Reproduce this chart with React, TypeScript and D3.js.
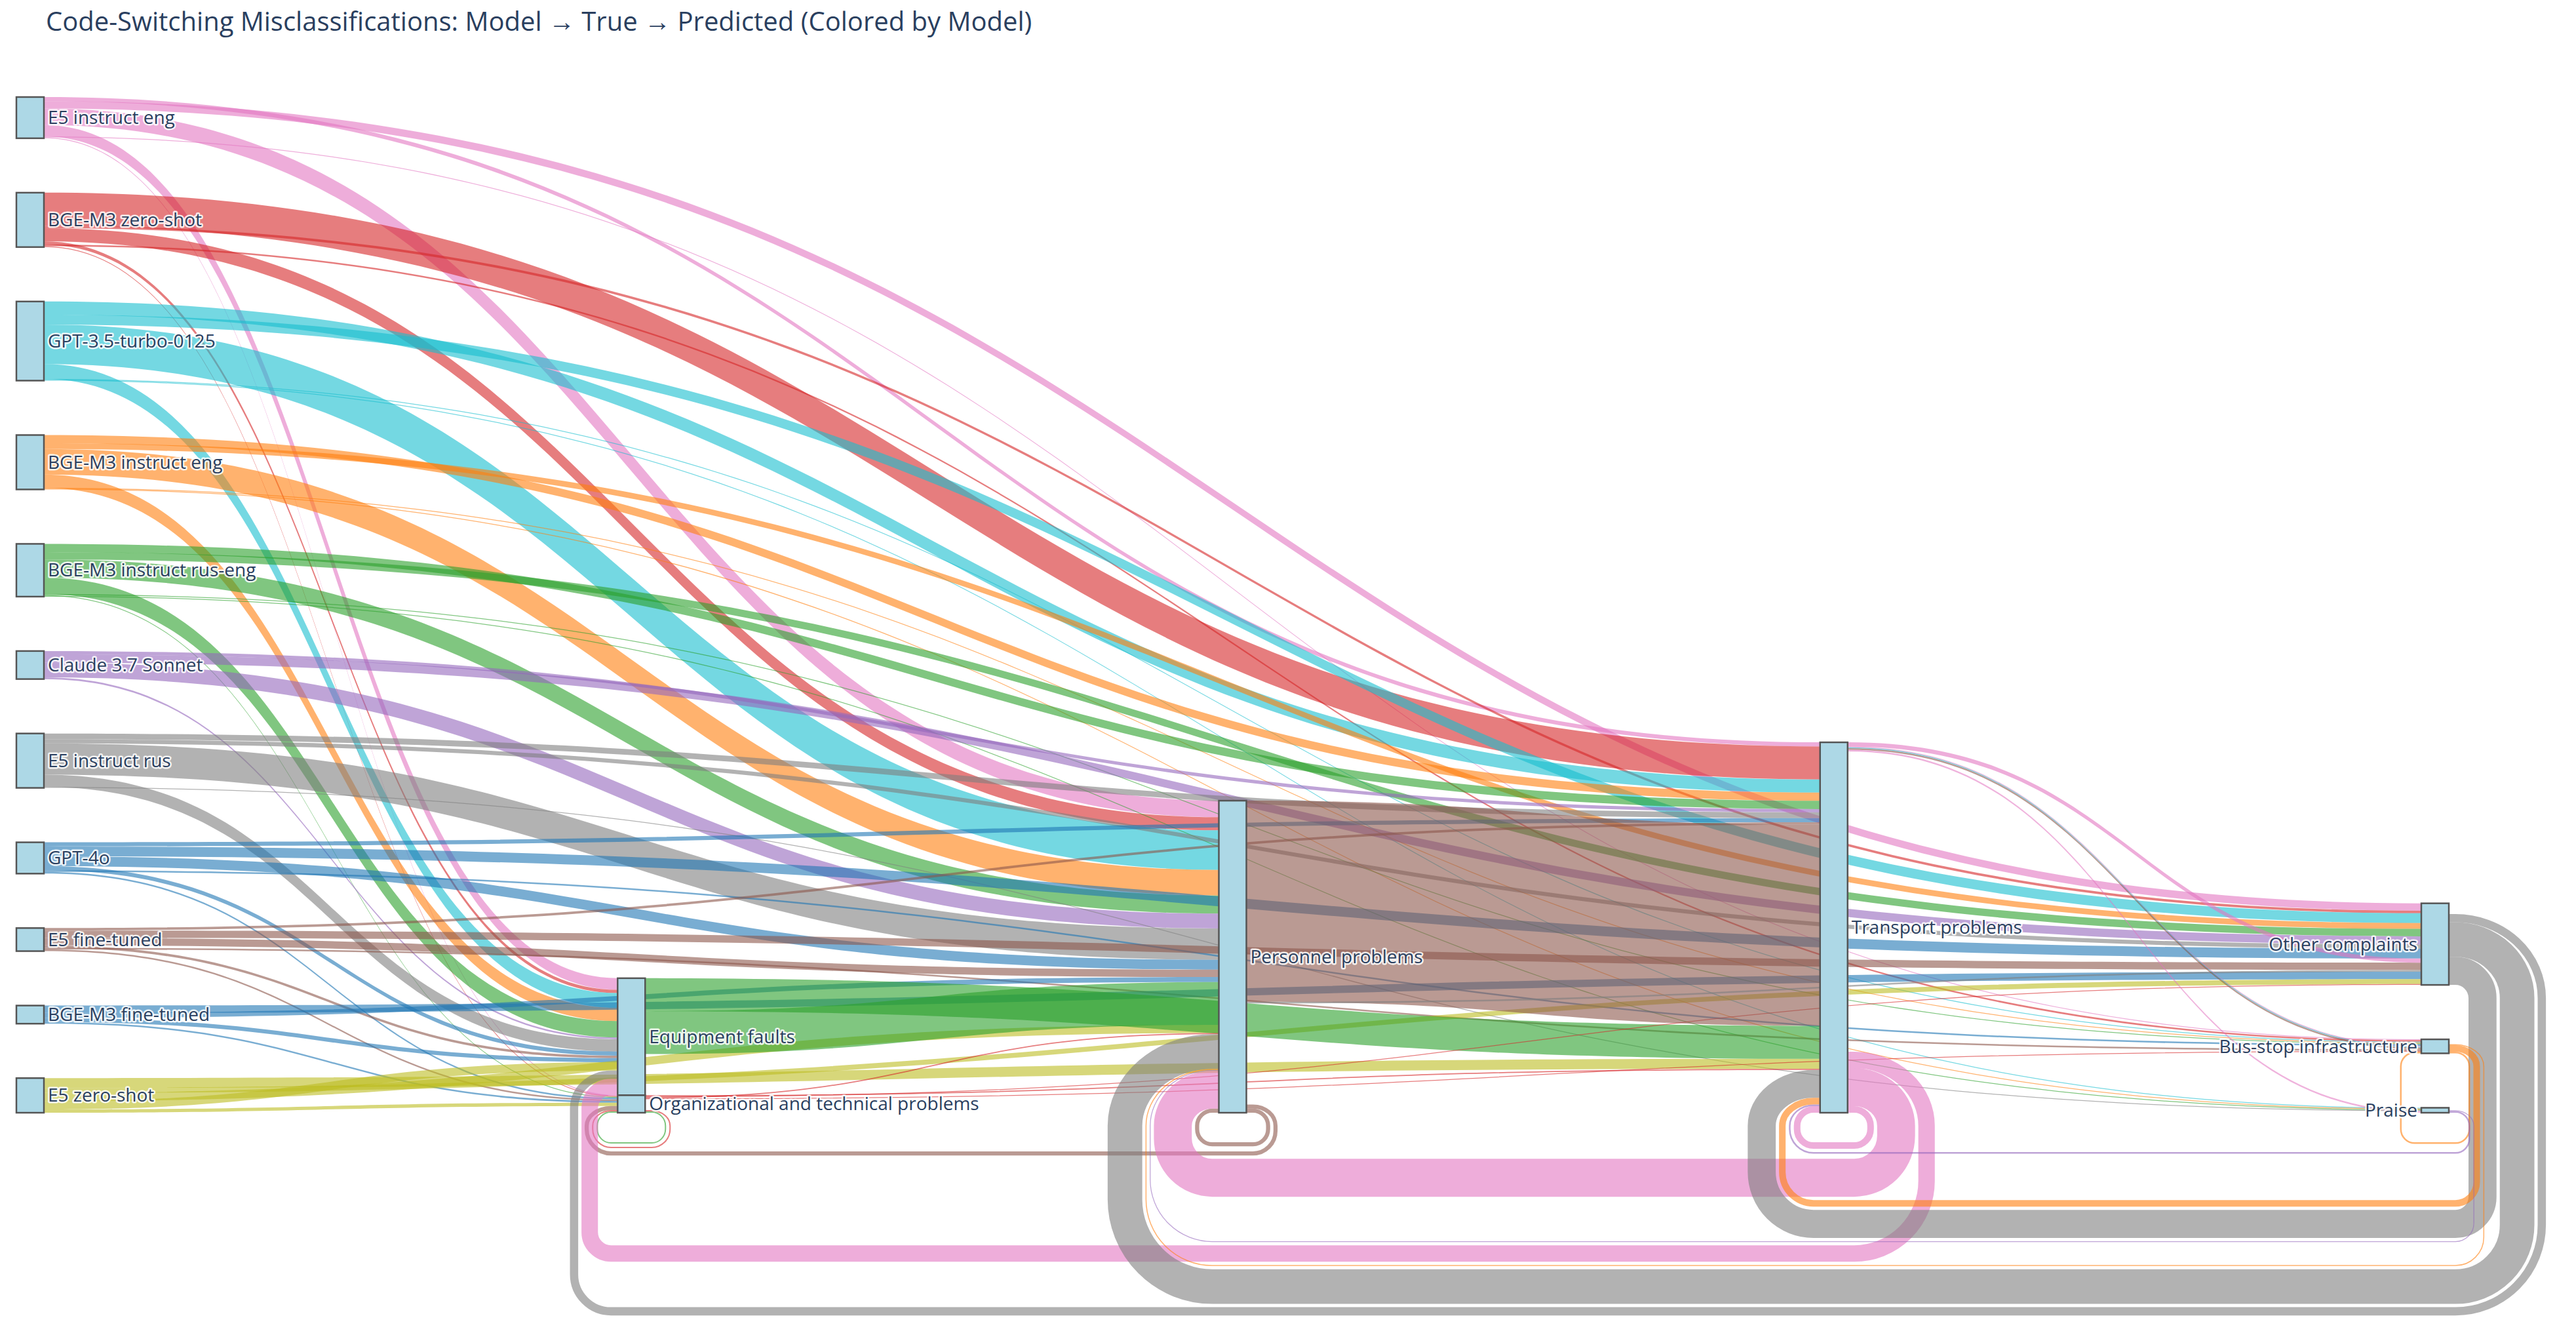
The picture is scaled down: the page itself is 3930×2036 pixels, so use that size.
import React, { useMemo } from "react";
import * as d3 from "d3";

const width = 3930;
const height = 2036;
const firstColumnX = 25;
const lastColumnX = 3694;
const nodeTop = 148;
const nodeBottom = 1697;
const nodeWidth = 42;
const COLUMN_PADDING = [83, 0, 83, 83, 83];
const nodeBuffer = 10;
const baseRadius = 20;
const circularGap = 5;
const verticalMargin = 45;
const linkOpacity = 0.6;

const MODELS = [
  "E5 instruct eng",
  "BGE-M3 zero-shot",
  "GPT-3.5-turbo-0125",
  "BGE-M3 instruct eng",
  "BGE-M3 instruct rus-eng",
  "Claude 3.7 Sonnet",
  "E5 instruct rus",
  "GPT-4o",
  "E5 fine-tuned",
  "BGE-M3 fine-tuned",
  "E5 zero-shot",
];

const MODEL_COLORS = [
  "#e377c2", "#d62728", "#17becf", "#ff7f0e", "#2ca02c", "#9467bd",
  "#7f7f7f", "#1f77b4", "#8c564b", "#1f77b4", "#bcbd22",
];

const CATEGORIES = [
  "Equipment faults",
  "Organizational and technical problems",
  "Personnel problems",
  "Transport problems",
  "Other complaints",
  "Bus-stop infrastructure",
  "Praise",
];
const CATEGORY_COLUMN = [1, 1, 2, 3, 4, 4, 4];

// rows follow MODELS, columns follow CATEGORIES (model -> true category)
const MODEL_TO_TRUE = [
  [7, 0.5, 10, 2.5, 4.5, 0.5, 0],
  [2, 0.5, 8, 20, 1.5, 1, 0],
  [9, 0, 24, 8, 6, 0.5, 0.5],
  [8, 0, 15.5, 5, 3.5, 0.5, 0.5],
  [10, 0.5, 11, 5, 4.5, 0.5, 0.5],
  [1, 0, 9, 2, 5, 0, 0],
  [7.5, 0, 19, 3.5, 2.5, 0, 0.5],
  [2.5, 1, 6, 2.5, 6, 1, 0],
  [1.5, 1, 4.5, 1.5, 4.5, 1, 0],
  [2.5, 1, 3, 0, 4.5, 0, 0],
  [5, 2, 5, 6, 3, 0, 0],
];

// [true category, predicted category, model, count]
const TRUE_TO_PRED: [string, string, string, number][] = [
  ["Equipment faults", "Personnel problems", "BGE-M3 instruct rus-eng", 26],
  ["Equipment faults", "Transport problems", "BGE-M3 instruct rus-eng", 20],
  ["Organizational and technical problems", "Personnel problems", "BGE-M3 zero-shot", 0.7],
  ["Organizational and technical problems", "Transport problems", "BGE-M3 zero-shot", 0.7],
  ["Organizational and technical problems", "Other complaints", "BGE-M3 zero-shot", 0.5],
  ["Organizational and technical problems", "Bus-stop infrastructure", "BGE-M3 zero-shot", 0.5],
  ["Organizational and technical problems", "Organizational and technical problems", "BGE-M3 zero-shot", 0.8],
  ["Organizational and technical problems", "Organizational and technical problems", "BGE-M3 instruct rus-eng", 0.8],
  ["Personnel problems", "Transport problems", "E5 fine-tuned", 122],
  ["Personnel problems", "Other complaints", "E5 instruct rus", 1],
  ["Personnel problems", "Organizational and technical problems", "E5 fine-tuned", 2.5],
  ["Personnel problems", "Personnel problems", "E5 fine-tuned", 2.5],
  ["Transport problems", "Other complaints", "E5 instruct eng", 2.5],
  ["Transport problems", "Bus-stop infrastructure", "E5 instruct eng", 0.5],
  ["Transport problems", "Bus-stop infrastructure", "GPT-3.5-turbo-0125", 0.5],
  ["Transport problems", "Bus-stop infrastructure", "E5 fine-tuned", 1],
  ["Transport problems", "Praise", "E5 instruct eng", 0.5],
  ["Transport problems", "Praise", "E5 instruct eng", 0.5],
  ["Transport problems", "Personnel problems", "E5 instruct eng", 23],
  ["Transport problems", "Equipment faults", "E5 instruct eng", 10],
  ["Transport problems", "Transport problems", "E5 instruct eng", 4],
  ["Other complaints", "Transport problems", "E5 instruct rus", 17],
  ["Other complaints", "Personnel problems", "E5 instruct rus", 21],
  ["Other complaints", "Equipment faults", "E5 instruct rus", 5],
  ["Bus-stop infrastructure", "Transport problems", "BGE-M3 instruct eng", 4],
  ["Bus-stop infrastructure", "Personnel problems", "BGE-M3 instruct eng", 0.6],
  ["Bus-stop infrastructure", "Bus-stop infrastructure", "BGE-M3 instruct eng", 1],
  ["Praise", "Transport problems", "Claude 3.7 Sonnet", 1],
  ["Praise", "Personnel problems", "Claude 3.7 Sonnet", 0.5],
];

const TITLE = "Code-Switching Misclassifications: Model \u2192 True \u2192 Predicted (Colored by Model)";

function withAlpha(hex: string, a: number) {
  const c = d3.rgb(hex);
  return `rgba(${c.r},${c.g},${c.b},${a})`;
}

function buildSankey() {
  const nodes: any[] = [
    ...MODELS.map((name) => ({ name, col: 0, inLinks: [], outLinks: [] })),
    ...CATEGORIES.map((name, i) => ({ name, col: CATEGORY_COLUMN[i], inLinks: [], outLinks: [] })),
  ];
  const byName = new Map(nodes.map((n) => [n.name, n]));
  const links: any[] = [];

  MODEL_TO_TRUE.forEach((row, m) => {
    row.forEach((value, c) => {
      if (value > 0) {
        links.push({ source: byName.get(MODELS[m]), target: byName.get(CATEGORIES[c]), value, color: MODEL_COLORS[m] });
      }
    });
  });
  TRUE_TO_PRED.forEach(([t, p, model, value]) => {
    links.push({ source: byName.get(t), target: byName.get(p), value, color: MODEL_COLORS[MODELS.indexOf(model)] });
  });

  links.forEach((l) => {
    l.source.outLinks.push(l);
    l.target.inLinks.push(l);
    l.circular = l.target.col <= l.source.col;
    l.span = l.source.col - l.target.col;
  });
  nodes.forEach((n) => {
    n.value = Math.max(d3.sum(n.inLinks, (l: any) => l.value), d3.sum(n.outLinks, (l: any) => l.value));
  });

  const columns = d3.groups(nodes, (n) => n.col);
  const ky = d3.min(columns, ([col, ns]) =>
    (nodeBottom - nodeTop - (ns.length - 1) * COLUMN_PADDING[col]) / d3.sum(ns, (n: any) => n.value)
  ) as number;
  const x = d3.scaleLinear().domain([0, 4]).range([firstColumnX, lastColumnX]);

  columns.forEach(([col, ns]) => {
    let y = nodeBottom;
    for (let i = ns.length - 1; i >= 0; i--) {
      const n = ns[i];
      n.y1 = y;
      n.y0 = y - n.value * ky;
      n.x0 = x(col);
      n.x1 = n.x0 + nodeWidth;
      y = n.y0 - COLUMN_PADDING[col];
    }
  });
  links.forEach((l) => (l.width = l.value * ky));

  const mid = (n: any) => (n.y0 + n.y1) / 2;
  nodes.forEach((n) => {
    const out = n.outLinks.filter((l: any) => !l.circular).sort((a: any, b: any) => mid(a.target) - mid(b.target));
    const outC = n.outLinks.filter((l: any) => l.circular).sort((a: any, b: any) => b.span - a.span || a.target.y0 - b.target.y0);
    let y = n.y0;
    out.forEach((l: any) => { l.y0 = y + l.width / 2; y += l.width; });
    y = n.y1;
    outC.slice().reverse().forEach((l: any) => { l.y0 = y - l.width / 2; y -= l.width; });

    const inn = n.inLinks.filter((l: any) => !l.circular).sort((a: any, b: any) => mid(a.source) - mid(b.source));
    const inC = n.inLinks.filter((l: any) => l.circular).sort((a: any, b: any) => b.span - a.span || a.source.y0 - b.source.y0);
    y = n.y0;
    inn.forEach((l: any) => { l.y1 = y + l.width / 2; y += l.width; });
    y = n.y1;
    inC.slice().reverse().forEach((l: any) => { l.y1 = y - l.width / 2; y -= l.width; });
  });

  // circular links: nested loops under the nodes
  const circ = links.filter((l) => l.circular).sort((a, b) => a.span - b.span || b.y0 - a.y0);
  const cross = (a: any, b: any) => !(a.source.col < b.target.col || a.target.col > b.source.col);
  circ.forEach((l, i) => {
    let buffer = 0;
    for (let j = 0; j < i; j++) {
      if (cross(l, circ[j])) buffer = Math.max(buffer, circ[j].buffer + circ[j].width / 2 + circularGap);
    }
    l.buffer = buffer + l.width / 2;
  });
  circ.forEach((l) => {
    const sameSource = circ.filter((m) => m.source === l.source).sort((a, b) => b.y0 - a.y0);
    let offset = 0;
    sameSource.forEach((m, i) => {
      if (m === l) {
        l.rs = baseRadius + l.width / 2 + offset;
        l.rl = baseRadius + l.width / 2 + i * circularGap + offset;
      }
      offset += m.width;
    });
    const sameTarget = circ.filter((m) => m.target === l.target).sort((a, b) => b.y1 - a.y1);
    offset = 0;
    sameTarget.forEach((m, i) => {
      if (m === l) {
        l.ls = baseRadius + l.width / 2 + offset;
        l.ll = baseRadius + l.width / 2 + i * circularGap + offset;
      }
      offset += m.width;
    });
  });

  return { nodes, links };
}

function linkPath(l: any) {
  const sx = l.source.x1;
  const tx = l.target.x0;
  if (!l.circular) {
    const xm = (sx + tx) / 2;
    const s0 = l.y0 - l.width / 2, s1 = l.y0 + l.width / 2;
    const t0 = l.y1 - l.width / 2, t1 = l.y1 + l.width / 2;
    return `M${sx},${s0}C${xm},${s0} ${xm},${t0} ${tx},${t0}L${tx},${t1}C${xm},${t1} ${xm},${s1} ${sx},${s1}Z`;
  }
  const sy = l.y0, ty = l.y1;
  const vFull = nodeBottom + verticalMargin + l.buffer;
  const rIn = sx + nodeBuffer, rFull = sx + nodeBuffer + l.rl;
  const lIn = tx - nodeBuffer, lFull = tx - nodeBuffer - l.ll;
  return `M${sx},${sy}L${rIn},${sy}A${l.rl},${l.rs} 0 0 1 ${rFull},${sy + l.rs}` +
    `L${rFull},${vFull - l.rl}A${l.rl},${l.rl} 0 0 1 ${rIn},${vFull}` +
    `L${lIn},${vFull}A${l.ll},${l.ll} 0 0 1 ${lFull},${vFull - l.ll}` +
    `L${lFull},${ty + l.ls}A${l.ll},${l.ls} 0 0 1 ${lIn},${ty}L${tx},${ty}`;
}

const App = () => {
  const { nodes, links } = useMemo(buildSankey, []);
  const labelStyle = {
    fontFamily: "'Open Sans', sans-serif",
    fontSize: 28,
    fill: "#2a3f5f",
    stroke: "#fff",
    strokeWidth: 5,
    strokeOpacity: 0.85,
    strokeLinejoin: "round" as const,
    paintOrder: "stroke",
  };

  return (
    <svg
      width={width}
      height={height}
      viewBox={`0 0 ${width} ${height}`}
      style={{ position: "absolute", left: 0, top: 0, background: "#fff" }}
    >
      <text x={70} y={47} fontFamily="'Open Sans', sans-serif" fontSize={40} fill="#2a3f5f">
        {TITLE}
      </text>
      <g>
        {links.map((l, i) =>
          l.circular ? (
            <path key={i} d={linkPath(l)} fill="none" stroke={withAlpha(l.color, linkOpacity)} strokeWidth={l.width} />
          ) : (
            <path key={i} d={linkPath(l)} fill={withAlpha(l.color, linkOpacity)} />
          )
        )}
      </g>
      <g>
        {nodes.map((n) => (
          <rect
            key={n.name}
            x={n.x0}
            y={n.y0}
            width={n.x1 - n.x0}
            height={Math.max(1, n.y1 - n.y0)}
            fill="#add8e6"
            stroke="#555"
            strokeWidth={2.5}
          />
        ))}
      </g>
      <g>
        {nodes.map((n) => {
          const last = n.col === 4;
          return (
            <text
              key={n.name}
              x={last ? n.x0 - 6 : n.x1 + 6}
              y={(n.y0 + n.y1) / 2}
              dy="0.35em"
              textAnchor={last ? "end" : "start"}
              style={labelStyle}
            >
              {n.name}
            </text>
          );
        })}
      </g>
    </svg>
  );
};

export default App;
